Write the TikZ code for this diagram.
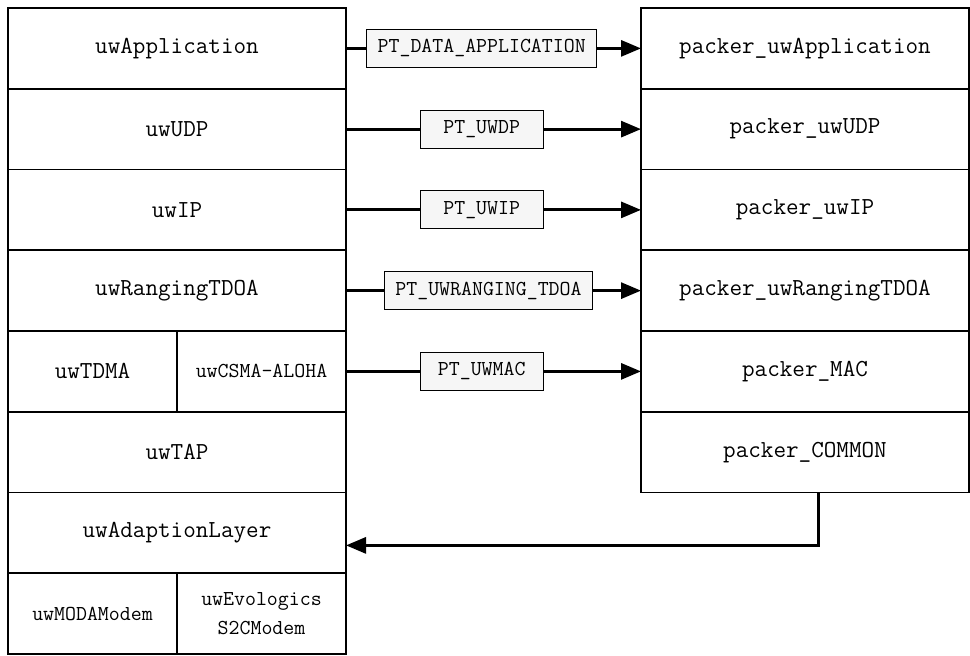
\documentclass[tikz,border=0pt]{standalone}
\usetikzlibrary{arrows.meta, positioning, quotes}
\tikzstyle{every picture} = [every edge quotes/.append style={tag}, node distance=0pt]
\tikzstyle{layer} = [draw, line width=.9pt, outer sep=0pt, minimum width=6.76cm, minimum height=1.615cm, font=\fontsize{13.9}{16}\ttfamily]
\tikzstyle{half} = [layer, minimum width=3.38cm, font=\fontsize{12.1}{16}\ttfamily, align=center]
\tikzstyle{packer} = [layer, minimum width=6.56cm]
\tikzstyle{tag} = [draw, fill=gray!7, line width=.6pt, auto=false, anchor=center, pos=.46, minimum width=2.46cm, minimum height=.76cm, inner xsep=.22cm, font=\fontsize{12.1}{14}\ttfamily]
\tikzstyle{flow} = [line width=1.7pt, -{Triangle[length=.4cm, width=.32cm]}]

\begin{document}
\begin{tikzpicture}
            \useasboundingbox (0,0) rectangle (19.4,-13.1);
            % protocol stack
            \node (app) [layer, anchor=north west] at (.16,-.16) {uwApplication};
            \node (udp) [layer, below=of app] {uwUDP};
            \node (ip) [layer, below=of udp] {uwIP};
            \node (ranging) [layer, below=of ip] {uwRangingTDOA};
            \node (tdma) [half, font=\fontsize{13.9}{16}\ttfamily, below right=0pt and 0pt of ranging.south west] {uwTDMA};
            \node (csma) [half, right=of tdma] {uwCSMA-ALOHA};
            \node (tap) [layer, below right=0pt and 0pt of tdma.south west] {uwTAP};
            \node (adapt) [layer, below=of tap] {uwAdaptionLayer};
            \node (moda) [half, below right=0pt and 0pt of adapt.south west] {uwMODAModem};
            \node (evo) [half, right=of moda] {uwEvologics\\S2CModem};

            % packers
            \node (pkapp) [packer, anchor=north west] at (12.82,-.16) {packer\_uwApplication};
            \node (pkudp) [packer, below=of pkapp] {packer\_uwUDP};
            \node (pkip) [packer, below=of pkudp] {packer\_uwIP};
            \node (pkranging) [packer, below=of pkip] {packer\_uwRangingTDOA};
            \node (pkmac) [packer, below=of pkranging] {packer\_MAC};
            \node (common) [packer, below=of pkmac] {packer\_COMMON};

            \path (app) edge[flow, "PT\_DATA\_APPLICATION"] (pkapp)
                  (udp) edge[flow, "PT\_UWDP"] (pkudp)
                  (ip) edge[flow, "PT\_UWIP"] (pkip)
                  (ranging) edge[flow, "PT\_UWRANGING\_TDOA" pos=.483] (pkranging)
                  (csma) edge[flow, "PT\_UWMAC"] (pkmac);
            \draw[flow] ([xshift=.26cm]common.south) |- ([yshift=-.25cm]adapt.east);
        \end{tikzpicture}
\end{document}
